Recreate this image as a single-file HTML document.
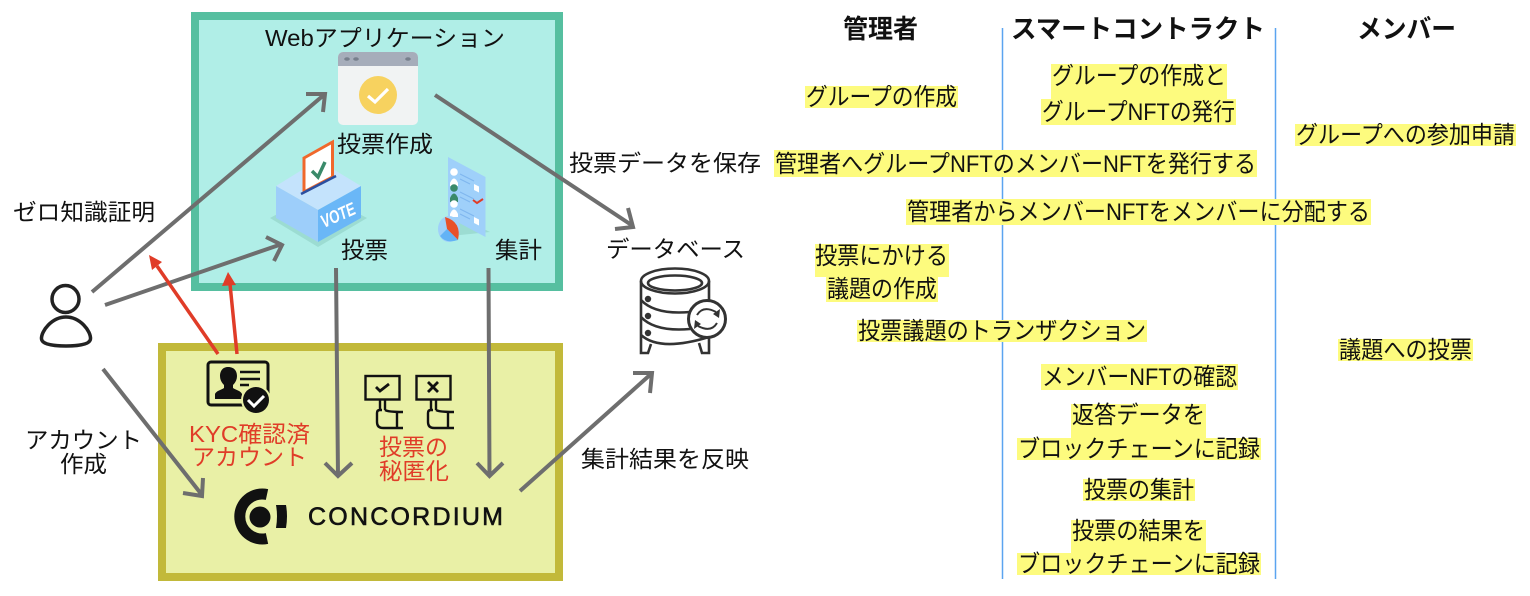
<!DOCTYPE html>
<html lang="ja"><head><meta charset="utf-8"><title>Diagram</title>
<style>
html,body{margin:0;padding:0;background:#fff;width:1530px;height:596px;overflow:hidden}
svg{display:block;filter:blur(.35px)}
text{font-family:"Liberation Sans","Noto Sans CJK JP",sans-serif;fill:#111;font-size:23px}
.y{fill:#fdfb7e}
.b{font-weight:700;font-size:26px}
.r{fill:#e03c28}
.t{font-size:24px}
.a{fill:none;stroke:#6e6e6e;stroke-width:4;stroke-linecap:butt;stroke-linejoin:miter}
.k{fill:none;stroke:#111;stroke-width:3}
.s{fill:none;stroke:#111;stroke-width:2.4}
.d{fill:none;stroke:#333;stroke-width:2.6}
</style></head><body>
<svg width="1530" height="596" viewBox="0 0 1530 596" xmlns="http://www.w3.org/2000/svg">
<rect width="1530" height="596" fill="#fff"/>
<!-- boxes -->
<rect x="195" y="16" width="364" height="271" fill="#b0eee7" stroke="#56bfa0" stroke-width="8"/>
<rect x="162" y="347" width="397" height="230" fill="#e9f0a6" stroke="#c2b93a" stroke-width="8"/>

<!-- window icon -->
<rect x="338" y="52" width="80" height="73" rx="5" fill="#f1f3f3"/>
<path d="M338 66V57a5 5 0 0 1 5-5h70a5 5 0 0 1 5 5v9z" fill="#a6adba"/>
<ellipse cx="347" cy="59" rx="2.800" ry="1.800" fill="#777f8c"/><ellipse cx="356" cy="59" rx="2.800" ry="1.800" fill="#777f8c"/><ellipse cx="408" cy="59" rx="2.800" ry="1.800" fill="#777f8c"/>
<circle cx="378" cy="95" r="19" fill="#f7d25f"/>
<path d="M368 96l7 6 13-13" fill="none" stroke="#fff" stroke-width="3.200"/>

<!-- ballot box -->
<path d="M270 218L318 192 367 218 318 247z" fill="#9cdcd2"/>
<path d="M276 186L318 160 361 186 318 210z" fill="#c4e3fc"/>
<path d="M276 186L318 210V242L276 218z" fill="#9dcefa"/>
<path d="M318 210L361 186V218L318 242z" fill="#6ab7f7"/>
<path d="M304 158L332.500 142V177L304 192z" fill="#fff" stroke="#f0682c" stroke-width="3"/>
<path d="M301 194L336 176" stroke="#2b4fa0" stroke-width="2.500"/>
<path d="M312 171l6 6 7-15" fill="none" stroke="#3a8a6a" stroke-width="3.500"/>
<text transform="translate(324,228) rotate(-24)" style="font-size:18px;font-weight:700;font-style:italic;fill:#fff" textLength="36" lengthAdjust="spacingAndGlyphs">VOTE</text>

<!-- report icon -->
<path d="M450 236L490 232 452 214z" fill="#9cdcd2"/>
<path d="M448 157L485.500 177V237L448 217z" fill="#9fd0fa"/>
<g fill="#fff"><circle cx="454" cy="172" r="3.800"/><path d="M450 183q4-9 8 0v3h-8z"/></g>
<g fill="#3a8a6a"><circle cx="454" cy="188" r="3.800"/><path d="M450 198q4-9 8 0v4h-8z"/></g>
<g fill="#fff"><circle cx="454" cy="204" r="3.800"/><path d="M450 214q4-9 8 0v3h-8z"/></g>
<path d="M460 174l14 7M460 179l10 5M460 192l14 7M460 197l10 5M460 209l14 7M460 214l10 5" stroke="#7fb6ee" stroke-width="1"/>
<path d="M474 184l5 2.500v6l-5-2.500zM474 217l5 2.500v6l-5-2.500z" fill="#fff"/>
<path d="M473 200l4 3 6-4" fill="none" stroke="#e03c28" stroke-width="2"/>
<ellipse cx="449" cy="229" rx="11" ry="13" fill="#9fd0fa"/>
<path d="M447 229L445 217Q462 222 458 240z" fill="#e8502a"/>
<path d="M447 229L458 240Q446 244 440 236z" fill="#63b3f5"/>

<!-- user icon -->
<circle cx="65.500" cy="299" r="13.500" fill="none" stroke="#222" stroke-width="3.500"/>
<path d="M66 317C52 317 41 331 41.500 339C42 345 56 346 66 346C76 346 90 345 90.500 339C91 331 80 317 66 317z" fill="none" stroke="#222" stroke-width="3.500"/>

<!-- id card -->
<path d="M208 365a3 3 0 0 1 3-3h54a3 3 0 0 1 3 3v32M246 405h-35a3 3 0 0 1-3-3v-37" class="k"/>
<path d="M228 367c-6 0-8 5-8 9 0 4 2 7 4 9v3c-3 2-8 3-9 6v5h27v-5c-1-3-6-4-9-6v-3c2-2 4-5 4-9 0-4-2-9-9-9z" fill="#111"/>
<path d="M240 372h20M240 379h20M240 385h9" stroke="#111" stroke-width="2.500"/>
<circle cx="256" cy="400" r="15" fill="#e9f0a6"/>
<circle cx="256" cy="400" r="13" fill="#111"/>
<path d="M248 400l6 6 10-10" fill="none" stroke="#fff" stroke-width="3"/>

<!-- secret ballot icons -->
<rect x="365.500" y="376" width="34" height="23.500" class="s"/>
<rect x="416.500" y="376" width="34" height="23.500" class="s"/>
<path d="M376 387l4 4 9-7" fill="none" stroke="#111" stroke-width="2.800"/>
<path d="M428 382l10 10M438 382l-10 10" fill="none" stroke="#111" stroke-width="2.800"/>
<path d="M380 400v10M385 400v10M382 410h-2q-3 0-3 3v9q0 6 6 6h20M385 410q3 2 18 2M397 412v16" class="s"/>
<path d="M431 400v10M436 400v10M433 410h-2q-3 0-3 3v9q0 6 6 6h20M436 410q3 2 18 2M448 412v16" class="s"/>

<!-- concordium logo -->
<path d="M267 494.500A22.500 22.500 0 1 0 267 538.500" fill="none" stroke="#111" stroke-width="11"/>
<circle cx="260" cy="517" r="10.500" fill="#111"/>
<path d="M276 505H286Q288 516 286 528H276Q278 516 276 505z" fill="#111"/>
<text x="308" y="525" textLength="195" lengthAdjust="spacing" style="font-size:25px;stroke:#111;stroke-width:.6">CONCORDIUM</text>

<!-- database icon -->
<path d="M641 281V340M709 281V306" class="d"/>
<ellipse cx="675" cy="281" rx="34" ry="12.500" class="d" fill="#fff"/>
<ellipse cx="675" cy="283" rx="27" ry="7.500" class="d"/>
<path d="M641 300Q655 315 690 312M641 317Q655 332 690 329M641 335Q660 352 709 337" class="d"/>
<path d="M641 340V353H648L651 344M709 337V353H702L699 343" class="d"/>
<circle cx="648" cy="299" r="3.200" fill="#333"/><circle cx="648" cy="316" r="3.200" fill="#333"/><circle cx="648" cy="333" r="3.200" fill="#333"/>
<circle cx="707" cy="319" r="18.500" fill="#fff" stroke="#333" stroke-width="3"/>
<path d="M697 315Q703 305 716 312" fill="none" stroke="#333" stroke-width="2"/>
<path d="M720 309l-1 9-6-4zM694 329l1-9 6 4z" fill="#333"/>
<path d="M717 323Q711 333 698 326" fill="none" stroke="#333" stroke-width="2"/>

<!-- gray arrows -->
<path class="a" d="M92 292L325 94M306 94L325 94 323 112"/>
<path class="a" d="M105 305L282 244M266 237L282 245 274 261"/>
<path class="a" d="M103 369L202 495M203 478L202 496 183 493"/>
<path class="a" d="M435 95L633 226M628 208L633 227 615 229"/>
<path class="a" d="M336 268L338 476M325 463L338 476 352 463"/>
<path class="a" d="M488.500 268L489.500 476M477 463L489.500 476 503 463"/>
<path class="a" d="M520 491L651 374M633 373L652 373 650 393"/>

<!-- red arrows -->
<path d="M218 354L157 266" stroke="#e03c28" stroke-width="3.500" fill="none"/>
<path d="M149 255L162 262 152 270z" fill="#e03c28"/>
<path d="M237 354L230 284" stroke="#e03c28" stroke-width="3.500" fill="none"/>
<path d="M228 272L236 285 222 286z" fill="#e03c28"/>

<!-- left labels -->
<text x="265" y="46" textLength="240" lengthAdjust="spacingAndGlyphs">Webアプリケーション</text>
<text x="337" y="152" textLength="96" lengthAdjust="spacingAndGlyphs">投票作成</text>
<text x="341" y="258" textLength="47" lengthAdjust="spacingAndGlyphs">投票</text>
<text x="495" y="258" textLength="47" lengthAdjust="spacingAndGlyphs">集計</text>
<text x="13" y="220" textLength="142" lengthAdjust="spacingAndGlyphs">ゼロ知識証明</text>
<text x="25" y="448" textLength="117" lengthAdjust="spacingAndGlyphs">アカウント</text>
<text x="60" y="472" textLength="47" lengthAdjust="spacingAndGlyphs">作成</text>
<text x="569" y="171" textLength="192" lengthAdjust="spacingAndGlyphs">投票データを保存</text>
<text x="606" y="257" textLength="139" lengthAdjust="spacingAndGlyphs">データベース</text>
<text x="581" y="467" textLength="168" lengthAdjust="spacingAndGlyphs">集計結果を反映</text>
<text class="r" x="189" y="442" textLength="121" lengthAdjust="spacingAndGlyphs">KYC確認済</text>
<text class="r" x="192" y="465" textLength="115" lengthAdjust="spacingAndGlyphs">アカウント</text>
<text class="r" x="379" y="455" textLength="69" lengthAdjust="spacingAndGlyphs">投票の</text>
<text class="r" x="379" y="479" textLength="70" lengthAdjust="spacingAndGlyphs">秘匿化</text>

<!-- right table -->
<path d="M1002.500 28V579M1275.500 28V579" stroke="#5ba4f0" stroke-width="1.500" fill="none"/>
<text class="b" x="843" y="38" textLength="75" lengthAdjust="spacingAndGlyphs">管理者</text>
<text class="b" x="1011" y="38" textLength="254" lengthAdjust="spacingAndGlyphs">スマートコントラクト</text>
<text class="b" x="1357" y="38" textLength="99" lengthAdjust="spacingAndGlyphs">メンバー</text>

<rect class="y" x="805" y="86" width="153" height="22"/>
<rect class="y" x="1051" y="64" width="176" height="35"/>
<rect class="y" x="1041" y="99" width="195" height="26"/>
<rect class="y" x="1295" y="124" width="221" height="22"/>
<rect class="y" x="774" y="150" width="483" height="27"/>
<rect class="y" x="906" y="199" width="465" height="26"/>
<rect class="y" x="815" y="244" width="134" height="33"/>
<rect class="y" x="826" y="277" width="112" height="25"/>
<rect class="y" x="857" y="320" width="290" height="22"/>
<rect class="y" x="1338" y="339" width="135" height="22"/>
<rect class="y" x="1041" y="364" width="197" height="26"/>
<rect class="y" x="1071" y="404" width="135" height="34"/>
<rect class="y" x="1017" y="438" width="244" height="22"/>
<rect class="y" x="1083" y="479" width="112" height="22"/>
<rect class="y" x="1071" y="520" width="135" height="33"/>
<rect class="y" x="1017" y="553" width="244" height="22"/>

<text class="t" x="806" y="105" textLength="151" lengthAdjust="spacingAndGlyphs">グループの作成</text>
<text class="t" x="1052" y="84" textLength="174" lengthAdjust="spacingAndGlyphs">グループの作成と</text>
<text class="t" x="1042" y="120" textLength="193" lengthAdjust="spacingAndGlyphs">グループNFTの発行</text>
<text class="t" x="1296" y="143" textLength="219" lengthAdjust="spacingAndGlyphs">グループへの参加申請</text>
<text class="t" x="775" y="172" textLength="481" lengthAdjust="spacingAndGlyphs">管理者へグループNFTのメンバーNFTを発行する</text>
<text class="t" x="907" y="220" textLength="463" lengthAdjust="spacingAndGlyphs">管理者からメンバーNFTをメンバーに分配する</text>
<text class="t" x="815" y="264" textLength="133" lengthAdjust="spacingAndGlyphs">投票にかける</text>
<text class="t" x="827" y="297" textLength="110" lengthAdjust="spacingAndGlyphs">議題の作成</text>
<text class="t" x="858" y="339" textLength="288" lengthAdjust="spacingAndGlyphs">投票議題のトランザクション</text>
<text class="t" x="1339" y="358" textLength="133" lengthAdjust="spacingAndGlyphs">議題への投票</text>
<text class="t" x="1042" y="385" textLength="195" lengthAdjust="spacingAndGlyphs">メンバーNFTの確認</text>
<text class="t" x="1072" y="423" textLength="133" lengthAdjust="spacingAndGlyphs">返答データを</text>
<text class="t" x="1018" y="457" textLength="242" lengthAdjust="spacingAndGlyphs">ブロックチェーンに記録</text>
<text class="t" x="1084" y="498" textLength="110" lengthAdjust="spacingAndGlyphs">投票の集計</text>
<text class="t" x="1072" y="539" textLength="133" lengthAdjust="spacingAndGlyphs">投票の結果を</text>
<text class="t" x="1018" y="572" textLength="242" lengthAdjust="spacingAndGlyphs">ブロックチェーンに記録</text>
</svg>
</body></html>
